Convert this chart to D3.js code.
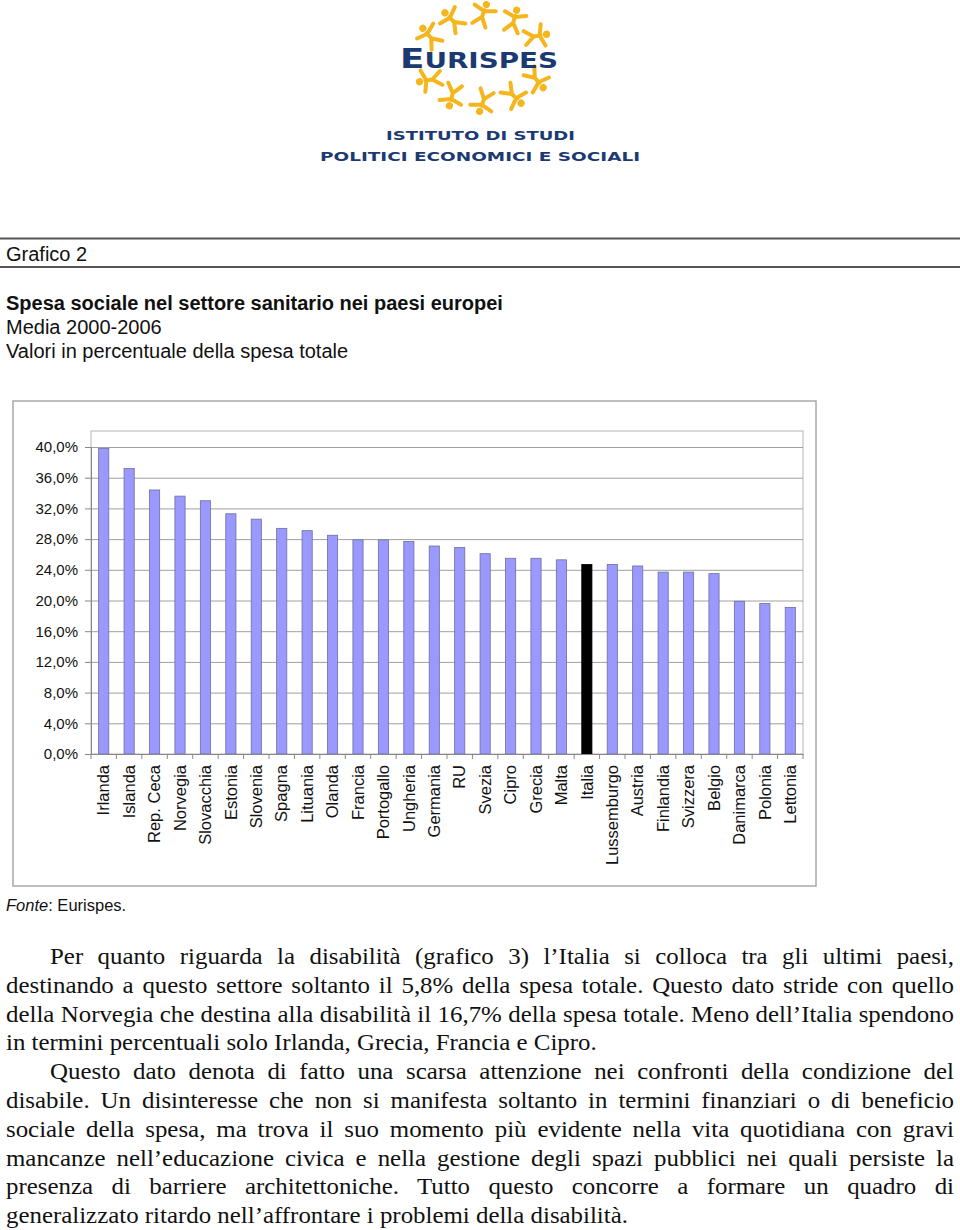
<!DOCTYPE html>
<html lang="it">
<head>
  <meta charset="UTF-8">
  <title>Grafico 2</title>
  <style>
    body { margin: 0; background: #fff; }
    svg { display: block; }
  </style>
</head>
<body>
  <div id="container"></div>
  <script src="https://cdn.jsdelivr.net/npm/d3@7"></script>
  <script>
    // dati
    const paesi = ['Irlanda', 'Islanda', 'Rep. Ceca', 'Norvegia', 'Slovacchia', 'Estonia', 'Slovenia', 'Spagna',
      'Lituania', 'Olanda', 'Francia', 'Portogallo', 'Ungheria', 'Germania', 'RU', 'Svezia', 'Cipro', 'Grecia',
      'Malta', 'Italia', 'Lussemburgo', 'Austria', 'Finlandia', 'Svizzera', 'Belgio', 'Danimarca', 'Polonia', 'Lettonia'];
    const valori = [39.8, 37.2, 34.4, 33.6, 33.0, 31.3, 30.6, 29.4, 29.1, 28.5, 27.9, 27.9, 27.7, 27.1, 26.9, 26.1,
      25.5, 25.5, 25.3, 24.7, 24.7, 24.5, 23.7, 23.7, 23.5, 19.9, 19.6, 19.1];
    const yTicks = [0, 4, 8, 12, 16, 20, 24, 28, 32, 36, 40];
    const evidenziato = 'Italia';

    const titoli = ['Grafico 2', 'Spesa sociale nel settore sanitario nei paesi europei', 'Media 2000-2006',
      'Valori in percentuale della spesa totale'];
    const righeTesto = [
      'Per quanto riguarda la disabilità (grafico 3) l’Italia si colloca tra gli ultimi paesi,',
      'destinando a questo settore soltanto il 5,8% della spesa totale. Questo dato stride con quello',
      'della Norvegia che destina alla disabilità il 16,7% della spesa totale. Meno dell’Italia spendono',
      'in termini percentuali solo Irlanda, Grecia, Francia e Cipro.',
      'Questo dato denota di fatto una scarsa attenzione nei confronti della condizione del',
      'disabile. Un disinteresse che non si manifesta soltanto in termini finanziari o di beneficio',
      'sociale della spesa, ma trova il suo momento più evidente nella vita quotidiana con gravi',
      'mancanze nell’educazione civica e nella gestione degli spazi pubblici nei quali persiste la',
      'presenza di barriere architettoniche. Tutto questo concorre a formare un quadro di',
      'generalizzato ritardo nell’affrontare i problemi della disabilità.'
    ];
    // 1 = inizio paragrafo (rientro), 2 = ultima riga (non giustificata)
    const tipoRiga = [1, 0, 0, 2, 1, 0, 0, 0, 0, 2];

    const W = 960, H = 1230;
    const svg = d3.select('#container').append('svg')
      .attr('width', W).attr('height', H);

    // ---- logo ----
    const logo = svg.append('g');
    const giallo = '#f5b51c', blu = '#1c3a72';
    const cx = 483, cy = 58, rx = 62, ry = 44;
    d3.range(12).forEach(i => {
      if (i === 0 || i === 6) return; // nascosti dalla scritta
      const a = i * Math.PI / 6;
      const px = cx + rx * Math.cos(a), py = cy + ry * Math.sin(a);
      const rot = a * 180 / Math.PI + 90 + (i % 2 ? 20 : -15);
      const f = logo.append('g')
        .attr('transform', `translate(${px},${py}) rotate(${rot})`)
        .attr('stroke', giallo).attr('stroke-width', 4).attr('stroke-linecap', 'round')
        .attr('stroke-linejoin', 'round').attr('fill', 'none');
      f.append('path').attr('d', 'M0,-3 L-11,-6 M0,-3 L11,-7 M0,-4 L0,3 L-7,12 M0,3 L7,12');
      f.append('circle').attr('cx', 0).attr('cy', -10).attr('r', 3.6).attr('fill', giallo).attr('stroke', 'none');
    });
    const eur = logo.append('text')
      .attr('x', 400).attr('y', 68)
      .attr('font-family', 'DejaVu Sans').attr('font-weight', 'bold')
      .attr('fill', blu).attr('textLength', 158).attr('lengthAdjust', 'spacingAndGlyphs');
    eur.append('tspan').attr('font-size', 27).text('E');
    eur.append('tspan').attr('font-size', 21).text('URISPES');
    logo.append('text').attr('x', 386).attr('y', 140)
      .attr('font-family', 'DejaVu Sans').attr('font-weight', 'bold').attr('font-size', 12.5)
      .attr('fill', blu).attr('textLength', 189).attr('lengthAdjust', 'spacingAndGlyphs')
      .text('ISTITUTO DI STUDI');
    logo.append('text').attr('x', 320).attr('y', 161)
      .attr('font-family', 'DejaVu Sans').attr('font-weight', 'bold').attr('font-size', 12.5)
      .attr('fill', blu).attr('textLength', 320).attr('lengthAdjust', 'spacingAndGlyphs')
      .text('POLITICI ECONOMICI E SOCIALI');

    // ---- titoli ----
    svg.append('line').attr('x1', 0).attr('x2', W).attr('y1', 238.5).attr('y2', 238.5)
      .attr('stroke', '#555').attr('stroke-width', 2);
    svg.append('line').attr('x1', 0).attr('x2', W).attr('y1', 267).attr('y2', 267)
      .attr('stroke', '#555').attr('stroke-width', 2);
    const titY = [261, 310, 334, 358];
    titoli.forEach((t, i) => {
      svg.append('text').attr('x', 6).attr('y', titY[i])
        .attr('font-family', 'Liberation Sans, Arial').attr('font-size', 20)
        .attr('font-weight', i === 1 ? 'bold' : 'normal')
        .attr('fill', '#111')
        .text(t);
    });

    // ---- grafico ----
    const plot = { left: 91, right: 803, top: 431, bottom: 754 };
    svg.append('rect').attr('x', 13).attr('y', 401).attr('width', 803).attr('height', 485)
      .attr('fill', '#fff').attr('stroke', '#a8a8a8').attr('stroke-width', 1.5);
    svg.append('rect').attr('x', plot.left).attr('y', plot.top)
      .attr('width', plot.right - plot.left).attr('height', plot.bottom - plot.top)
      .attr('fill', '#fff').attr('stroke', '#b4b4b4').attr('stroke-width', 1);

    const x = d3.scaleBand().domain(paesi).range([plot.left, plot.right])
      .paddingInner(0.6).paddingOuter(0.3);
    const y = d3.scaleLinear().domain([0, 40]).range([plot.bottom, 447]);

    // griglia
    svg.append('g').attr('transform', `translate(${plot.left},0)`)
      .call(d3.axisLeft(y).tickValues(yTicks.slice(1)).tickSize(-(plot.right - plot.left)).tickFormat(''))
      .call(g => g.select('.domain').remove())
      .selectAll('line').attr('stroke', '#a0a0a0');

    svg.append('g')
      .selectAll('rect').data(paesi).join('rect')
      .attr('x', d => x(d)).attr('width', x.bandwidth())
      .attr('y', (d, i) => y(valori[i])).attr('height', (d, i) => y(0) - y(valori[i]))
      .attr('fill', d => d === evidenziato ? '#000' : '#9999ff')
      .attr('stroke', d => d === evidenziato ? '#000' : '#6e6e9e').attr('stroke-width', 0.8);

    // asse y
    const ay = svg.append('g').attr('transform', `translate(${plot.left},0)`)
      .call(d3.axisLeft(y).tickValues(yTicks).tickSize(6).tickPadding(7)
        .tickFormat(d => d.toFixed(1).replace('.', ',') + '%'));
    ay.select('.domain').attr('stroke', '#888');
    ay.selectAll('line').attr('stroke', '#888');
    ay.selectAll('text').attr('font-family', 'Liberation Sans, Arial').attr('font-size', 15).attr('fill', '#111');

    // asse x
    const ax = svg.append('g').attr('transform', `translate(0,${plot.bottom})`)
      .call(d3.axisBottom(x).tickSize(0));
    ax.select('.domain').attr('stroke', '#888');
    ax.selectAll('text')
      .attr('font-family', 'Liberation Sans, Arial').attr('font-size', 16.5).attr('fill', '#111')
      .attr('transform', 'rotate(-90)')
      .attr('text-anchor', 'end')
      .attr('x', -11).attr('y', 0).attr('dy', '0.35em');
    ax.selectAll('.sep').data(d3.range(paesi.length + 1)).join('line')
      .attr('x1', i => plot.left + i * x.step()).attr('x2', i => plot.left + i * x.step())
      .attr('y1', 0).attr('y2', 5).attr('stroke', '#888');

    const fonte = svg.append('text').attr('x', 6).attr('y', 911)
      .attr('font-family', 'Liberation Sans, Arial').attr('font-size', 16.5).attr('fill', '#111');
    fonte.append('tspan').attr('font-style', 'italic').text('Fonte');
    fonte.append('tspan').text(': Eurispes.');

    // ---- testo giustificato ----
    const fs = 24, interlinea = 28.8, y0 = 964, xl = 6, xr = 954, rientro = 50;
    const testo = svg.append('g').attr('font-family', 'Liberation Serif, Times New Roman')
      .attr('font-size', fs).attr('fill', '#111');
    // compressione orizzontale ricavata dall'ultima riga del primo paragrafo
    const prova = testo.append('text').text(righeTesto[3]);
    const sx = (597 - xl) / prova.node().getComputedTextLength();
    prova.remove();
    righeTesto.forEach((r, i) => {
      const x0 = tipoRiga[i] === 1 ? rientro : xl;
      const t = testo.append('text')
        .attr('transform', `translate(${x0},${y0 + i * interlinea}) scale(${sx},1)`)
        .attr('x', 0).attr('y', 0).text(r);
      if (tipoRiga[i] !== 2) {
        const w = t.node().getComputedTextLength();
        const spazi = r.split(' ').length - 1;
        t.attr('word-spacing', ((xr - x0) / sx - w) / spazi);
      }
    });
  </script>
</body>
</html>
